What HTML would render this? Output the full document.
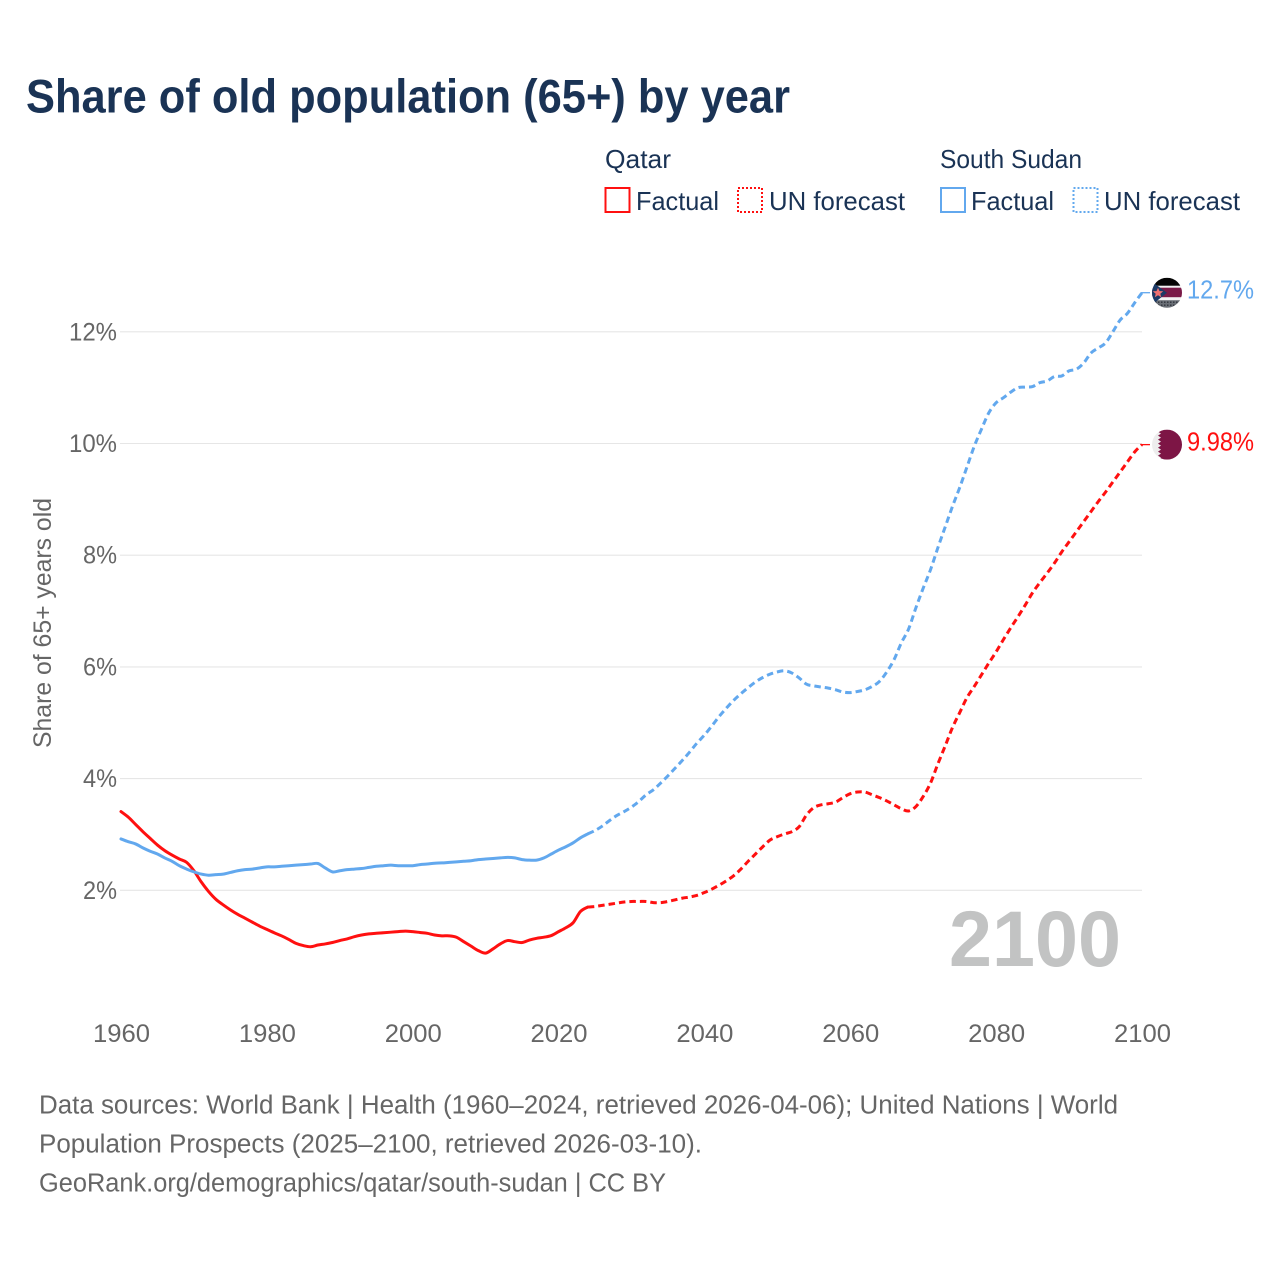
<!DOCTYPE html>
<html lang="en">
<head>
<meta charset="utf-8">
<title>Share of old population (65+) by year</title>
<style>
html,body{margin:0;padding:0;background:#fff;width:1280px;height:1280px;overflow:hidden}
svg{display:block}
text{font-family:"Liberation Sans",sans-serif}
</style>
</head>
<body>
<svg id="chart" width="1280" height="1280" viewBox="0 0 1280 1280" xmlns="http://www.w3.org/2000/svg">
  <rect width="1280" height="1280" fill="#fff"/>
  <text x="26" y="112.5" font-size="47" font-weight="700" fill="#1a3355" textLength="764" lengthAdjust="spacingAndGlyphs">Share of old population (65+) by year</text>

  <g font-size="26" fill="#1a3355">
    <text x="605" y="168" textLength="66" lengthAdjust="spacingAndGlyphs">Qatar</text>
    <rect x="605.5" y="188" width="24" height="24" fill="none" stroke="#ff1010" stroke-width="2"/>
    <text x="636" y="210" textLength="83" lengthAdjust="spacingAndGlyphs">Factual</text>
    <rect x="738" y="188" width="24" height="24" fill="none" stroke="#ff1010" stroke-width="2" stroke-dasharray="2 2"/>
    <text x="769" y="210" textLength="136" lengthAdjust="spacingAndGlyphs">UN forecast</text>

    <text x="940" y="168" textLength="142" lengthAdjust="spacingAndGlyphs">South Sudan</text>
    <rect x="941" y="188" width="24" height="24" fill="none" stroke="#62a8ee" stroke-width="2"/>
    <text x="971" y="210" textLength="83" lengthAdjust="spacingAndGlyphs">Factual</text>
    <rect x="1073.5" y="188" width="24" height="24" fill="none" stroke="#62a8ee" stroke-width="2" stroke-dasharray="2 2"/>
    <text x="1104" y="210" textLength="136" lengthAdjust="spacingAndGlyphs">UN forecast</text>
  </g>

  <g id="grid"></g>
  <g id="yticks" font-size="25" fill="#666"></g>
  <g id="xticks" font-size="25" fill="#666"></g>
  <text transform="translate(51,623) rotate(-90)" text-anchor="middle" font-size="25" fill="#666" textLength="250" lengthAdjust="spacingAndGlyphs">Share of 65+ years old</text>

  <text x="949" y="966" font-size="79" font-weight="700" fill="#c2c3c3" textLength="172" lengthAdjust="spacingAndGlyphs">2100</text>

  <g id="series"></g>

  <defs>
    <clipPath id="flag-clip"><circle cx="0" cy="0" r="15"/></clipPath>
  </defs>

  <g id="flag-ss">
    <g clip-path="url(#flag-clip)">
      <rect x="-15" y="-15" width="30" height="30" fill="#f2f2f2"/>
      <rect x="-15" y="-15" width="30" height="8" fill="#050505"/>
      <rect x="-15" y="-5" width="30" height="9.5" fill="#7a1a48"/>
      <rect x="-15" y="7.5" width="30" height="8" fill="#6a6f76"/>
      <line x1="-15" x2="15" y1="9.5" y2="9.5" stroke="#30343c" stroke-width="1.4" stroke-dasharray="1.5 1.5"/>
      <line x1="-15" x2="15" y1="12.5" y2="12.5" stroke="#30343c" stroke-width="1.4" stroke-dasharray="1.5 1.5"/>
      <path d="M-15,-11 L0,0 L-15,12 Z" fill="#1c3a66"/>
      <path d="M-9,-5 L-7.5,-1.6 L-3.8,-1.4 L-6.7,1 L-5.8,4.6 L-9,2.6 L-12.2,4.6 L-11.3,1 L-14.2,-1.4 L-10.5,-1.6 Z" fill="#f07070"/>
    </g>
  </g>

  <g id="flag-qa">
    <g clip-path="url(#flag-clip)">
      <rect x="-15" y="-15" width="30" height="30" fill="#ededed"/>
      <path d="M15,-15 L-6,-15 L-9,-13 L-6,-11 L-9,-9 L-6,-7 L-9,-5 L-6,-3 L-9,-1 L-6,1 L-9,3 L-6,5 L-9,7 L-6,9 L-9,11 L-6,13 L-9,15 L15,15 Z" fill="#7d1545"/>
    </g>
  </g>

  <g id="end-labels" font-size="25.5"></g>

  <g font-size="25.5" fill="#666">
    <text x="39" y="1113.5" textLength="1079" lengthAdjust="spacingAndGlyphs">Data sources: World Bank | Health (1960–2024, retrieved 2026-04-06); United Nations | World</text>
    <text x="39" y="1152.5" textLength="663" lengthAdjust="spacingAndGlyphs">Population Prospects (2025–2100, retrieved 2026-03-10).</text>
    <text x="39" y="1191.5" textLength="627" lengthAdjust="spacingAndGlyphs">GeoRank.org/demographics/qatar/south-sudan | CC BY</text>
  </g>
</svg>

<script>
const startYear = 1960;
const lastFactualYear = 2024;
const yTickValues = [2, 4, 6, 8, 10, 12];
const yTickLabels = ["2%", "4%", "6%", "8%", "10%", "12%"];
const xTickValues = [1960, 1980, 2000, 2020, 2040, 2060, 2080, 2100];
const xTickLabels = ["1960", "1980", "2000", "2020", "2040", "2060", "2080", "2100"];

const qatarValues = [
3.41,3.31,3.18,3.05,2.93,2.81,2.71,2.63,2.56,2.50,
2.35,2.15,1.98,1.84,1.74,1.65,1.57,1.50,1.43,1.36,
1.30,1.24,1.185,1.12,1.05,1.01,0.99,1.02,1.04,1.065,
1.10,1.13,1.17,1.20,1.22,1.23,1.24,1.25,1.26,1.27,
1.26,1.245,1.23,1.20,1.185,1.185,1.16,1.08,1.00,0.92,
0.875,0.95,1.04,1.10,1.08,1.065,1.11,1.14,1.16,1.19,
1.26,1.33,1.42,1.62,1.70,
1.71,1.73,1.75,1.77,1.79,1.80,1.80,1.80,1.78,1.78,
1.80,1.83,1.86,1.88,1.91,1.96,2.02,2.09,2.17,2.26,
2.38,2.52,2.65,2.78,2.90,2.96,3.01,3.05,3.14,3.35,
3.48,3.53,3.55,3.58,3.66,3.73,3.76,3.76,3.71,3.66,
3.60,3.53,3.46,3.42,3.50,3.68,3.92,4.26,4.58,4.91,
5.18,5.45,5.65,5.86,6.07,6.27,6.49,6.70,6.90,7.11,
7.33,7.51,7.68,7.86,8.06,8.24,8.42,8.60,8.78,8.96,
9.13,9.31,9.49,9.67,9.85,9.98
];

const southSudanValues = [
2.92,2.87,2.83,2.76,2.70,2.65,2.58,2.52,2.44,2.38,
2.33,2.29,2.27,2.28,2.29,2.32,2.35,2.37,2.38,2.40,
2.42,2.42,2.43,2.44,2.45,2.46,2.47,2.48,2.40,2.33,
2.35,2.37,2.38,2.39,2.41,2.43,2.44,2.45,2.44,2.44,
2.44,2.46,2.47,2.485,2.49,2.50,2.51,2.52,2.53,2.55,
2.56,2.57,2.58,2.59,2.58,2.55,2.54,2.54,2.58,2.65,
2.72,2.78,2.85,2.94,3.01,
3.07,3.15,3.25,3.34,3.41,3.49,3.59,3.71,3.80,3.92,
4.05,4.19,4.33,4.48,4.64,4.78,4.94,5.11,5.26,5.40,
5.52,5.63,5.73,5.81,5.87,5.91,5.93,5.89,5.80,5.69,
5.66,5.64,5.62,5.59,5.55,5.54,5.56,5.59,5.65,5.74,
5.91,6.13,6.43,6.68,7.06,7.41,7.74,8.13,8.50,8.87,
9.21,9.58,9.95,10.26,10.55,10.73,10.82,10.92,11.00,11.01,
11.02,11.09,11.12,11.20,11.21,11.30,11.33,11.44,11.62,11.71,
11.80,12.00,12.21,12.33,12.52,12.70
];

const qatarEndLabel = "9.98%";
const southSudanEndLabel = "12.7%";

const NS = "http://www.w3.org/2000/svg";
const RED = "#ff1010";
const BLUE = "#62a8ee";

function xScale(year) { return 121 + (year - 1960) * (1021 / 140); }
function yScale(v) { return 1002 - v * 55.85; }

function make(tag, attrs, parent) {
  const el = document.createElementNS(NS, tag);
  for (const k in attrs) el.setAttribute(k, attrs[k]);
  parent.appendChild(el);
  return el;
}

const gridG = document.getElementById("grid");
const yG = document.getElementById("yticks");
const xG = document.getElementById("xticks");
const seriesG = document.getElementById("series");
const labelsG = document.getElementById("end-labels");

yTickValues.forEach(function (v, i) {
  const y = yScale(v);
  const line = make("line", { x1: 120, x2: 1142, y1: y, y2: y, stroke: "#e6e6e6", "stroke-width": 1.1 }, gridG);
  
  
  const label = yTickLabels[i];
  const t = make("text", { x: 117, y: yScale(v) + 8.5, "text-anchor": "end", textLength: (label.length - 1) * 14 + 20, lengthAdjust: "spacingAndGlyphs" }, yG);
  t.textContent = label;
  
  
});

xTickValues.forEach(function (v, i) {
  const t = make("text", { x: xScale(v) + 0.5, y: 1042, "text-anchor": "middle", textLength: 57, lengthAdjust: "spacingAndGlyphs" }, xG);
  t.textContent = xTickLabels[i];
  
  
});

function pathFor(values, from, to) {
  const pts = [];
  for (let yr = from; yr <= to; yr++) {
    pts.push([xScale(yr), yScale(values[yr - startYear])]);
  }
  let d = "M" + pts[0][0].toFixed(2) + "," + pts[0][1].toFixed(2);
  for (let i = 0; i < pts.length - 1; i++) {
    const p0 = pts[Math.max(i - 1, 0)];
    const p1 = pts[i];
    const p2 = pts[i + 1];
    const p3 = pts[Math.min(i + 2, pts.length - 1)];
    const c1x = p1[0] + (p2[0] - p0[0]) / 6;
    const c1y = p1[1] + (p2[1] - p0[1]) / 6;
    const c2x = p2[0] - (p3[0] - p1[0]) / 6;
    const c2y = p2[1] - (p3[1] - p1[1]) / 6;
    d += "C" + c1x.toFixed(2) + "," + c1y.toFixed(2) + " " + c2x.toFixed(2) + "," + c2y.toFixed(2) + " " + p2[0].toFixed(2) + "," + p2[1].toFixed(2);
  }
  return d;
}

function drawSeries(values, color, name) {
  const endYear = startYear + values.length - 1;
  const solid = make("path", {
    d: pathFor(values, startYear, lastFactualYear),
    fill: "none", stroke: color, "stroke-width": 3,
    "stroke-linejoin": "round", "stroke-linecap": "round"
  }, seriesG);
  
  
  const dashed = make("path", {
    d: pathFor(values, lastFactualYear, endYear),
    fill: "none", stroke: color, "stroke-width": 3,
    "stroke-dasharray": "6.5 4", "stroke-linejoin": "round"
  }, seriesG);
  
  
  const ey = yScale(values[values.length - 1]);
  const lead = make("line", { x1: xScale(endYear) - 1, x2: xScale(endYear) + 8, y1: ey, y2: ey, stroke: color, "stroke-width": 1.3 }, seriesG);
  
  
}

drawSeries(qatarValues, RED, 'qatar');
drawSeries(southSudanValues, BLUE, 'south-sudan');

function placeEnd(values, flagId, text, color, name) {
  const ey = yScale(values[values.length - 1]);
  document.getElementById(flagId).setAttribute("transform", "translate(1167," + ey + ")");
  const t = make("text", { x: 1187, y: ey + 6, fill: color, textLength: 67, lengthAdjust: "spacingAndGlyphs" }, labelsG);
  t.textContent = text;
  
  
}

placeEnd(qatarValues, "flag-qa", qatarEndLabel, "#ff1010", 'qatar');
placeEnd(southSudanValues, "flag-ss", southSudanEndLabel, "#62a8ee", 'south-sudan');
</script>
</body>
</html>
